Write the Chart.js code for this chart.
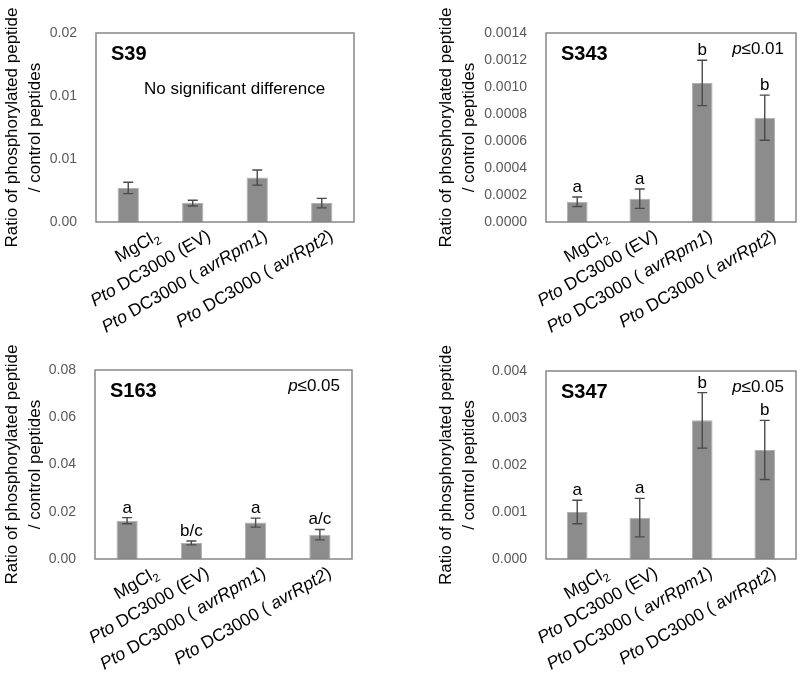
<!DOCTYPE html>
<html>
<head>
<meta charset="utf-8">
<script src="https://cdn.jsdelivr.net/npm/chart.js@4.4.0/dist/chart.umd.min.js"></script>
<style>
  html, body { margin: 0; padding: 0; background: #fff; }
  #wrap { position: relative; width: 800px; height: 678px; }
  canvas { position: absolute; }
</style>
</head>
<body>
<div id="wrap">
  <canvas id="c39"  width="400" height="339" style="left:0;top:0"></canvas>
  <canvas id="c343" width="400" height="339" style="left:400px;top:0"></canvas>
  <canvas id="c163" width="400" height="339" style="left:0;top:339px"></canvas>
  <canvas id="c347" width="400" height="339" style="left:400px;top:339px"></canvas>
</div>
<script>
// ---- data ----
const categories = ['MgCl2', 'Pto DC3000 (EV)', 'Pto DC3000 (avrRpm1)', 'Pto DC3000 (avrRpt2)'];
// same labels split into styled runs: n = normal, i = italic, sub = subscript
const categoryParts = [
  [['MgCl', 'n'], ['2', 'sub']],
  [['Pto', 'i'], [' DC3000 (EV)', 'n']],
  [['Pto', 'i'], [' DC3000 ( ', 'n'], ['avrRpm1', 'i'], [')', 'n']],
  [['Pto', 'i'], [' DC3000 ( ', 'n'], ['avrRpt2', 'i'], [')', 'n']],
];

const s39Values  = [0.0036, 0.0020, 0.0047, 0.0020];
const s39Errors  = [0.0006, 0.0003, 0.0008, 0.0005];
const s39Ticks   = ['0.00', '0.01', '0.01', '0.02'];

const s343Values = [0.000150, 0.000173, 0.00103, 0.000773];
const s343Errors = [0.000035, 0.000072, 0.000168, 0.000167];
const s343Letters = ['a', 'a', 'b', 'b'];
const s343Ticks  = ['0.0000', '0.0002', '0.0004', '0.0006', '0.0008', '0.0010', '0.0012', '0.0014'];

const s163Values = [0.0162, 0.0068, 0.0154, 0.0103];
const s163Errors = [0.0013, 0.0008, 0.0019, 0.0022];
const s163Letters = ['a', 'b/c', 'a', 'a/c'];
const s163Ticks  = ['0.00', '0.02', '0.04', '0.06', '0.08'];

const s347Values = [0.00100, 0.00088, 0.00295, 0.00232];
const s347Errors = [0.00025, 0.00041, 0.00059, 0.00063];
const s347Letters = ['a', 'a', 'b', 'b'];
const s347Ticks  = ['0.000', '0.001', '0.002', '0.003', '0.004'];

const FONT = '"Liberation Sans", Arial, sans-serif';
const BAR_COLOR = '#8c8c8c';
const ERR_COLOR = '#4a4a4a';
const BOX_COLOR = '#878787';
const TICK_COLOR = '#595959';
const LABEL_ANGLE = Math.PI / 6;

/* -------- decorations: box, error bars, letters, notes, rich x labels -------- */

const decorPlugin = {
  id: 'decor',
  afterDatasetsDraw(chart, args, o) {
    const { ctx, chartArea: a, scales: { x, y } } = chart;
    ctx.save();

    ctx.strokeStyle = BOX_COLOR;
    ctx.lineWidth = 1.5;
    ctx.strokeRect(a.left, a.top, a.right - a.left, a.bottom - a.top);

    // error bars + letters
    ctx.strokeStyle = ERR_COLOR;
    ctx.lineWidth = 1.4;
    ctx.fillStyle = '#000';
    ctx.font = `17px ${FONT}`;
    ctx.textAlign = 'center';
    ctx.textBaseline = 'alphabetic';
    o.values.forEach((v, i) => {
      const cx = x.getPixelForValue(i);
      const hi = y.getPixelForValue(v + o.errors[i]);
      const lo = y.getPixelForValue(v - o.errors[i]);
      ctx.beginPath();
      ctx.moveTo(cx, hi); ctx.lineTo(cx, lo);
      ctx.moveTo(cx - 5, hi); ctx.lineTo(cx + 5, hi);
      ctx.moveTo(cx - 5, lo); ctx.lineTo(cx + 5, lo);
      ctx.stroke();
      if (o.letters) ctx.fillText(o.letters[i], cx, hi - 5);
    });

    // panel title
    ctx.textAlign = 'left';
    ctx.font = `bold 20px ${FONT}`;
    ctx.fillText(o.title, a.left + 15, a.top + 27);

    if (o.note) {
      ctx.font = `17px ${FONT}`;
      ctx.fillText(o.note, a.left + 48, a.top + 61);
    }
    if (o.pValue) {
      ctx.font = `17px ${FONT}`;
      const rest = '\u2264' + o.pValue;
      const wRest = ctx.measureText(rest).width;
      ctx.font = `italic 17px ${FONT}`;
      const wP = ctx.measureText('p').width;
      const x0 = a.right - 12 - wRest - wP;
      ctx.fillText('p', x0, a.top + 21);
      ctx.font = `17px ${FONT}`;
      ctx.fillText(rest, x0 + wP, a.top + 21);
    }

    // rotated category labels with italic / subscript runs
    const fontFor = s => s === 'i' ? `italic 17.5px ${FONT}` : s === 'sub' ? `11.5px ${FONT}` : `17.5px ${FONT}`;
    categoryParts.forEach((parts, i) => {
      let w = 0;
      parts.forEach(([t, s]) => { ctx.font = fontFor(s); w += ctx.measureText(t).width; });
      const cx = x.getPixelForValue(i);
      ctx.save();
      ctx.translate(cx + 32 - 0.148 * w, a.bottom + 5);
      ctx.rotate(-LABEL_ANGLE);
      ctx.textBaseline = 'alphabetic';
      let px = -w;
      parts.forEach(([t, s]) => {
        ctx.font = fontFor(s);
        ctx.fillText(t, px, s === 'sub' ? 18 : 14);
        px += ctx.measureText(t).width;
      });
      ctx.restore();
    });

    ctx.restore();
  }
};

function makePanel(id, cfg) {
  const ctx = document.getElementById(id).getContext('2d');
  return new Chart(ctx, {
    type: 'bar',
    data: {
      labels: categories,
      datasets: [{
        data: cfg.values,
        backgroundColor: BAR_COLOR,
        borderColor: '#b0b0b0',
        borderWidth: 1,
        barPercentage: 0.33,
        categoryPercentage: 1,
      }],
    },
    options: {
      responsive: false,
      animation: false,
      layout: { padding: { left: 0, right: cfg.right, top: cfg.top, bottom: 0 } },
      plugins: {
        legend: { display: false },
        tooltip: { enabled: false },
        decor: {
          title: cfg.title, values: cfg.values, errors: cfg.errors,
          letters: cfg.letters, note: cfg.note, pValue: cfg.pValue,
        },
      },
      scales: {
        x: {
          grid: { display: false, drawTicks: false },
          border: { display: false },
          ticks: { display: false },
          afterFit: s => { s.height = cfg.xHeight; },
        },
        y: {
          min: 0,
          max: cfg.max,
          grid: { display: false, drawTicks: false },
          border: { display: false },
          ticks: {
            count: cfg.ticks.length,
            padding: 19,
            color: TICK_COLOR,
            font: { size: 14, family: FONT },
            callback: (v, i) => cfg.ticks[i],
          },
          title: {
            display: true,
            text: ['Ratio of phosphorylated peptide', '/ control peptides'],
            color: '#000',
            font: { size: 17, family: FONT, lineHeight: 1.4 },
            padding: { top: cfg.titlePad, bottom: 0 },
          },
          afterFit: s => { s.width = cfg.yWidth; },
        },
      },
    },
    plugins: [decorPlugin],
  });
}

makePanel('c39', {
  title: 'S39', values: s39Values, errors: s39Errors, ticks: s39Ticks, max: 0.02,
  note: 'No significant difference',
  yWidth: 96, right: 46, top: 33, xHeight: 117, titlePad: 0,
});
makePanel('c343', {
  title: 'S343', values: s343Values, errors: s343Errors, letters: s343Letters,
  ticks: s343Ticks, max: 0.0014, pValue: '0.01',
  yWidth: 146, right: 4, top: 33, xHeight: 117, titlePad: 34,
});
makePanel('c163', {
  title: 'S163', values: s163Values, errors: s163Errors, letters: s163Letters,
  ticks: s163Ticks, max: 0.08, pValue: '0.05',
  yWidth: 95, right: 48, top: 31, xHeight: 119, titlePad: 0,
});
makePanel('c347', {
  title: 'S347', values: s347Values, errors: s347Errors, letters: s347Letters,
  ticks: s347Ticks, max: 0.004, pValue: '0.05',
  yWidth: 146, right: 4, top: 32, xHeight: 119, titlePad: 34,
});
</script>
</body>
</html>
